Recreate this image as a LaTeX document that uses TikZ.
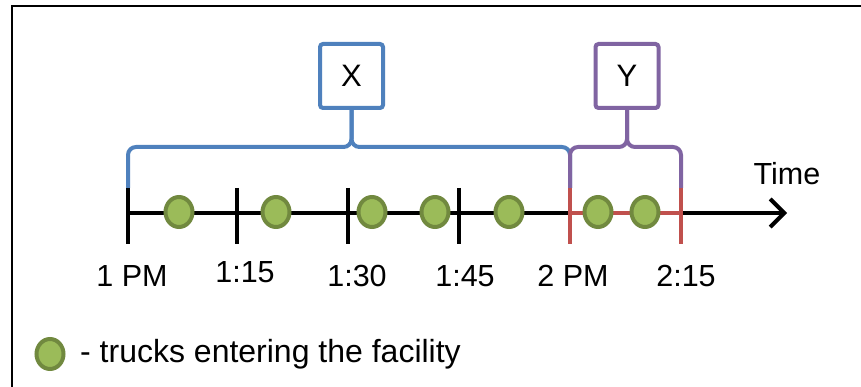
\documentclass[tikz,border=0pt]{standalone}
\usepackage{fontspec}
\setmainfont{Liberation Sans}
\usetikzlibrary{arrows.meta,shapes.geometric}
\definecolor{blueC}{HTML}{4F81BD}
\definecolor{purpC}{HTML}{8064A2}
\definecolor{redC}{HTML}{C0504D}
\definecolor{dotfill}{HTML}{9BBB59}
\definecolor{dotdraw}{HTML}{71893F}
\begin{document}
\begin{tikzpicture}[x=1pt,y=-1pt,
  truck/.style={ellipse, draw=dotdraw, fill=dotfill, line width=4, minimum width=27, minimum height=30, inner sep=0},
  lbl/.style={font=\fontsize{30.5}{34}\selectfont, inner sep=0},
  boxnode/.style={draw, line width=4, fill=white, rounded corners=3, minimum width=63, minimum height=64, font=\fontsize{31}{34}\selectfont},
  tick/.style={line width=4},
  brace/.style={line width=4, rounded corners=8}]
\useasboundingbox (0,0) rectangle (861,387);
% frame
\draw[line width=2.5] (12,387) -- (12,6) -- (861,6);
% tick coordinates
\foreach \n/\x in {0/128,1/237,2/348,3/459,4/570,5/681}{
  \coordinate (t\n) at (\x,213);
  \coordinate (t\n top) at (\x,188);
  \coordinate (t\n bot) at (\x,244);
}
\coordinate (axisend) at (787,213);
% boxes
\node[boxnode, draw=blueC] (X) at (351.5,76) {X};
\node[boxnode, draw=purpC] (Y) at (627,76) {Y};
% braces
\draw[brace, blueC] (t0top) -- (128,147) -| (X.south);
\draw[brace, blueC] (t4top) -- (570,147) -| (X.south);
\draw[brace, purpC] (t4top) -- (570,147) -| (Y.south);
\draw[brace, purpC] (t5top) -- (681,147) -| (Y.south);
% axis
\draw[line width=4, -{Straight Barb[length=14pt,width=28pt,line width=4pt]}] (t0) -- (axisend);
\draw[line width=4, redC] (t4) -- (t5);
% ticks
\foreach \n in {0,1,2,3}{\draw[tick] (t\n top) -- (t\n bot);}
\foreach \n in {4,5}{\draw[tick, redC] (t\n top) -- (t\n bot);}
% trucks
\foreach \n/\x in {a/179,b/276,c/372,d/435,e/509,f/598,g/645}{
  \node[truck] (d\n) at (\x,212) {};
}
% labels
\node[lbl] (l0) at (132,276) {1 PM};
\node[lbl] (l1) at (245,272) {1:15};
\node[lbl] (l2) at (357,276) {1:30};
\node[lbl] (l3) at (465,276) {1:45};
\node[lbl] (l4) at (573,276) {2 PM};
\node[lbl] (l5) at (686,276) {2:15};
\node[lbl] (time) at (787,174) {Time};
% legend
\node[truck] (legdot) at (50,354) {};
\node[lbl, anchor=west, font=\fontsize{32}{36}\selectfont] (legtxt) at (80,354) {- trucks entering the facility};
\end{tikzpicture}
\end{document}
